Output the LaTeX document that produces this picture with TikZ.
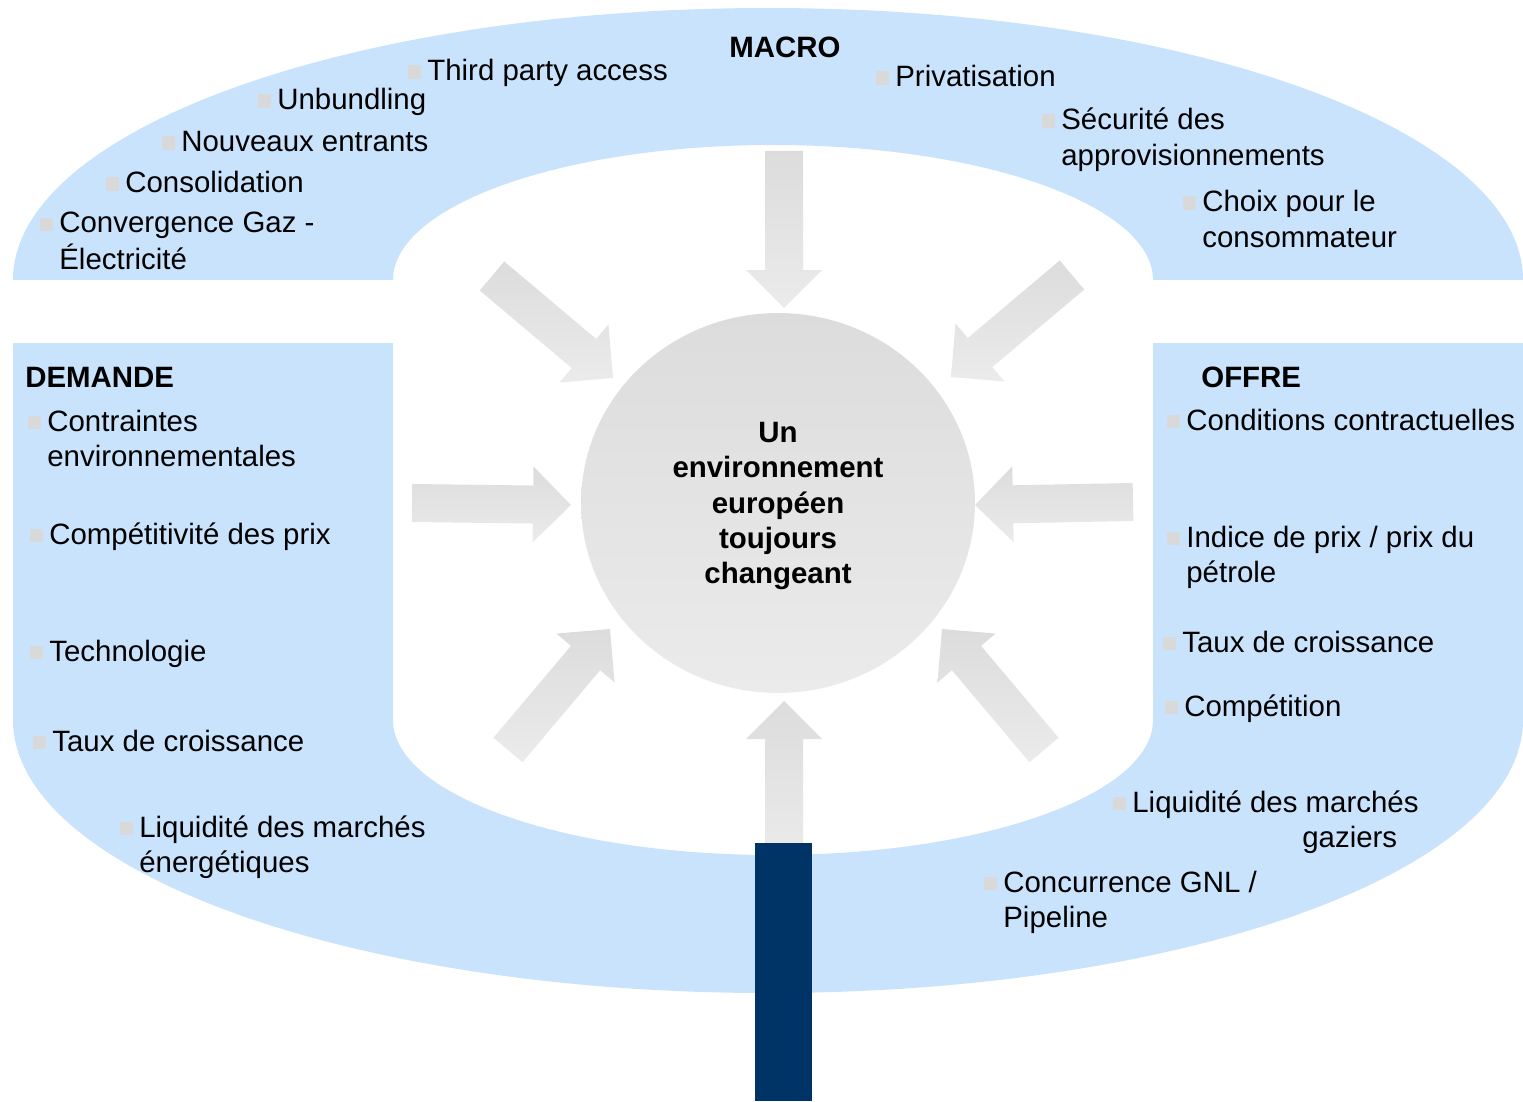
\documentclass[tikz,border=0pt]{standalone}
\usepackage{fontspec}
\setmainfont{Liberation Sans}
\usetikzlibrary{calc, shapes.geometric}
\definecolor{bandblue}{RGB}{201,227,252}
\definecolor{navyblue}{RGB}{0,51,102}
\definecolor{bulletgray}{RGB}{217,217,217}
\definecolor{arrowdark}{RGB}{220,220,220}
\definecolor{arrowlight}{RGB}{235,235,235}

\newcommand{\bulletbox}{\textcolor{bulletgray}{\raisebox{0.04cm}{\rule{0.26cm}{0.27cm}}}\hspace{0.12cm}}
\newcommand{\factor}[1]{\bulletbox\begin{tabular}[t]{@{}l@{}}#1\end{tabular}}
% block arrow from tail #1 to tip #2
\newcommand{\blockarrow}[2]{%
    \path ($(#2)!0.76cm!(#1)$) coordinate (neck);
    \shade[arrowfill] ($(#1)!0.38cm!90:(#2)$) -- ($(neck)!0.38cm!-90:(#1)$) -- ($(neck)!0.76cm!-90:(#1)$)
        -- (#2) -- ($(neck)!0.76cm!90:(#1)$) -- ($(neck)!0.38cm!90:(#1)$) -- ($(#1)!0.38cm!-90:(#2)$) -- cycle;
}

\begin{document}
\begin{tikzpicture}[x=0.02cm, y=-0.02cm,
    txt/.style={anchor=base west, inner sep=0pt, font=\fontsize{16.75pt}{20pt}\selectfont},
    heading/.style={txt, font=\fontsize{16.75pt}{20pt}\selectfont\bfseries},
    arrowfill/.style={top color=arrowdark, bottom color=arrowlight}]
    \useasboundingbox (0,0) rectangle (1523,1101);

    % Blue bands
    \fill[bandblue] (13,280) arc[start angle=180, end angle=360, x radius=755, y radius=272]
        -- (1153,280) arc[start angle=360, end angle=180, x radius=380, y radius=135] -- cycle;
    \fill[bandblue] (13,343) -- (13,720) arc[start angle=180, end angle=0, x radius=755, y radius=273]
        -- (1523,343) -- (1153,343) -- (1153,720) arc[start angle=0, end angle=180, x radius=380, y radius=135]
        -- (393,343) -- cycle;

    % Arrows towards the centre
    \coordinate (toptail) at (784,151);   \coordinate (toptip) at (784,308);
    \coordinate (bottail) at (784,859);   \coordinate (bottip) at (784,701);
    \coordinate (lefttail) at (412,503);  \coordinate (lefttip) at (571,505);
    \coordinate (righttail) at (1133,502); \coordinate (righttip) at (975,505);
    \coordinate (ultail) at (492,276);    \coordinate (ultip) at (613,378);
    \coordinate (urtail) at (1072,275);   \coordinate (urtip) at (951,377);
    \coordinate (lltail) at (508,750);    \coordinate (lltip) at (610,629);
    \coordinate (lrtail) at (1044,750);   \coordinate (lrtip) at (942,629);
    \foreach \a in {top, bot, left, right, ul, ur, ll, lr} {
        \blockarrow{\a tail}{\a tip}
    }

    \node[ellipse, minimum width=7.88cm, minimum height=7.6cm, inner sep=0pt, top color=arrowdark, bottom color=arrowlight] (centre) at (778,503) {};
    \node[align=center, inner sep=0pt, font=\fontsize{16.75pt}{20.2pt}\selectfont\bfseries] (centretxt) at (778,506)
        {Un\\environnement\\européen\\toujours\\changeant};

    \fill[navyblue] (755,843) rectangle (812,1101);

    % MACRO
    \node[heading] (macro) at (729,58) {MACRO};
    \node[txt] (tpa) at (408,81) {\factor{Third party access}};
    \node[txt] (unb) at (258,110) {\factor{Unbundling}};
    \node[txt] (nouv) at (162,152) {\factor{Nouveaux entrants}};
    \node[txt] (cons) at (106,193) {\factor{Consolidation}};
    \node[txt] (conv) at (40,233) {\factor{Convergence Gaz -\\Électricité}};
    \node[txt] (priv) at (876,87) {\factor{Privatisation}};
    \node[txt] (secu) at (1042,130) {\factor{Sécurité des\\approvisionnements}};
    \node[txt] (choix) at (1183,212) {\factor{Choix pour le\\consommateur}};

    % DEMANDE
    \node[heading] (demande) at (25,387) {DEMANDE};
    \node[txt] (contr) at (28,431) {\factor{Contraintes\\environnementales}};
    \node[txt] (compet) at (30,544) {\factor{Compétitivité des prix}};
    \node[txt] (techno) at (30,661) {\factor{Technologie}};
    \node[txt] (tauxd) at (33,751) {\factor{Taux de croissance}};
    \node[txt] (liqd) at (120,837) {\factor{Liquidité des marchés\\énergétiques}};

    % OFFRE
    \node[heading] (offre) at (1201,387) {OFFRE};
    \node[txt] (condi) at (1167,430) {\factor{Conditions contractuelles}};
    \node[txt] (indice) at (1167,547) {\factor{Indice de prix / prix du\\pétrole}};
    \node[txt] (tauxo) at (1163,652) {\factor{Taux de croissance}};
    \node[txt] (competo) at (1165,716) {\factor{Compétition}};
    \node[txt] (liqo) at (1113,812) {\factor{Liquidité des marchés\\\hspace*{3.4cm}gaziers}};
    \node[txt] (gnl) at (984,892) {\factor{Concurrence GNL /\\Pipeline}};
\end{tikzpicture}
\end{document}
